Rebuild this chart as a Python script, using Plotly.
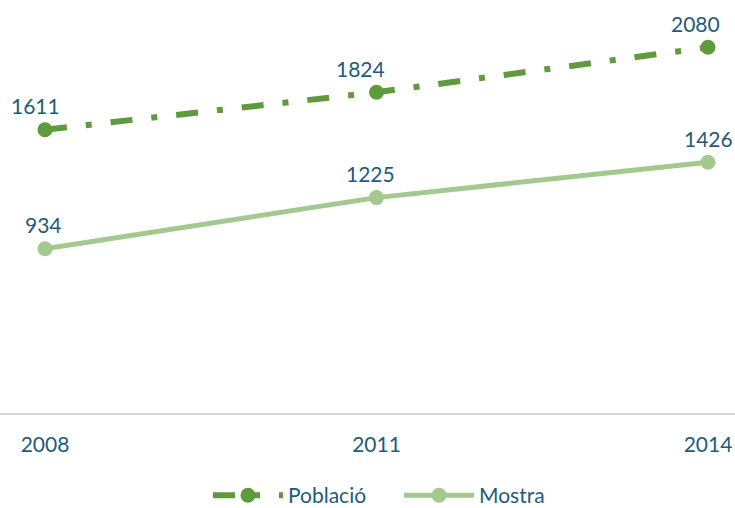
import plotly.graph_objects as go

years = ["2008", "2011", "2014"]
poblacio = [1611, 1824, 2080]
mostra = [934, 1225, 1426]

text_color = "#1f5b7a"
c_pob = "#5f9a3c"
c_mos = "#a3c98e"
font_family = "Lato, 'Open Sans', sans-serif"

# horizontal nudges (px) for the value labels, matching the reference
pob_dx = [-9, -16, -13]
mos_dx = [-1, -6, 0]

fig = go.Figure()
fig.add_trace(go.Scatter(
    x=years, y=poblacio, name="Població", mode="lines+markers",
    line=dict(color=c_pob, width=6, dash="22px,19px,6px,19px"),
    marker=dict(color=c_pob, size=15),
    cliponaxis=False, hoverinfo="skip",
))
fig.add_trace(go.Scatter(
    x=years, y=mostra, name="Mostra", mode="lines+markers",
    line=dict(color=c_mos, width=5),
    marker=dict(color=c_mos, size=15),
    cliponaxis=False, hoverinfo="skip",
))

for vals, dxs in ((poblacio, pob_dx), (mostra, mos_dx)):
    for i, (v, dx) in enumerate(zip(vals, dxs)):
        fig.add_annotation(x=i, y=v, xref="x", yref="y", text=str(v), showarrow=False,
                           xshift=dx, yshift=24, yanchor="middle", xanchor="center",
                           font=dict(color=text_color, size=21, family=font_family))

fig.update_layout(
    width=735, height=508,
    margin=dict(l=0, r=0, t=0, b=95, autoexpand=False),
    plot_bgcolor="white", paper_bgcolor="white",
    font=dict(family=font_family, color=text_color, size=21),
    showlegend=True, hovermode=False,
    legend=dict(orientation="h", x=0.283, xanchor="left", y=-0.2, yanchor="middle",
                font=dict(size=21, color=text_color), traceorder="normal",
                itemwidth=70, entrywidth=106, entrywidthmode="pixels",
                tracegroupgap=0),
    xaxis=dict(type="category", range=[-0.1357, 2.0814], showgrid=False,
               showline=True, linecolor="#d9d9d9", linewidth=2,
               ticks="outside", ticklen=12, tickcolor="rgba(0,0,0,0)",
               tickfont=dict(size=21, color=text_color)),
    yaxis=dict(range=[0, 2349], visible=False, showgrid=False, zeroline=False),
)

fig.write_html("out.html", config={"displayModeBar": False},
               post_script="document.body.style.margin='0';document.body.style.overflow='hidden';")
